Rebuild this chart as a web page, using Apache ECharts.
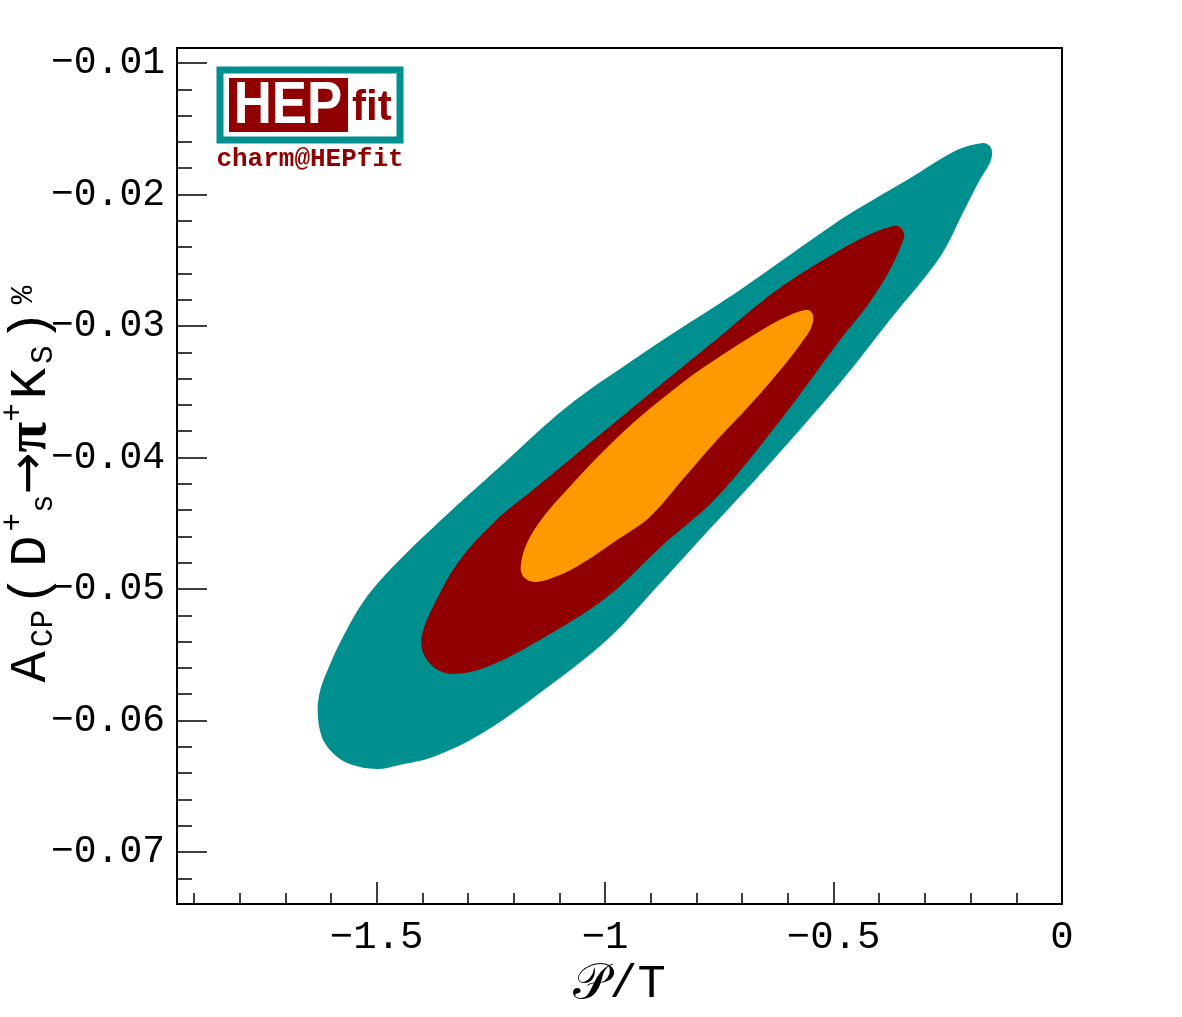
<!DOCTYPE html>
<html><head><meta charset="utf-8">
<script src="https://cdn.jsdelivr.net/npm/echarts@6/dist/echarts.min.js"></script>
<style>html,body{margin:0;padding:0;background:#fff}#c{width:1182px;height:1017px}</style>
</head><body><div id="c"></div>
<script>
// Axis ranges and tick values
const xMin = -1.937, xMax = 0;
const yMin = -0.07395, yMax = -0.00886;
const xTicks = [-1.5, -1, -0.5, 0];
const xMinor = [-1.9, -1.8, -1.7, -1.6, -1.4, -1.3, -1.2, -1.1, -0.9, -0.8, -0.7, -0.6, -0.4, -0.3, -0.2, -0.1];
const yTicks = [-0.07, -0.06, -0.05, -0.04, -0.03, -0.02, -0.01];
const yMinor = [-0.072, -0.068, -0.066, -0.064, -0.062, -0.058, -0.056, -0.054, -0.052,
  -0.048, -0.046, -0.044, -0.042, -0.038, -0.036, -0.034, -0.032,
  -0.028, -0.026, -0.024, -0.022, -0.018, -0.016, -0.014, -0.012];

// Contour outlines [P/T, A_CP %]
const contourOuter = [[-0.173,-0.01608],[-0.158,-0.01631],[-0.153,-0.01684],[-0.158,-0.01760],[-0.180,-0.01890],
  [-0.217,-0.02141],[-0.267,-0.02475],[-0.377,-0.02954],[-0.486,-0.03433],[-0.646,-0.04072],[-0.793,-0.04627],
  [-0.887,-0.04985],[-0.996,-0.05388],[-1.143,-0.05791],[-1.268,-0.06095],[-1.377,-0.06278],[-1.450,-0.06338],
  [-1.500,-0.06369],[-1.559,-0.06331],[-1.596,-0.06247],[-1.620,-0.06125],[-1.629,-0.05943],[-1.625,-0.05791],
  [-1.612,-0.05654],[-1.574,-0.05365],[-1.522,-0.05061],[-1.450,-0.04779],[-1.340,-0.04414],[-1.231,-0.04072],
  [-1.084,-0.03616],[-0.939,-0.03259],[-0.830,-0.03008],[-0.705,-0.02726],[-0.486,-0.02194],[-0.414,-0.02042],
  [-0.339,-0.01890],[-0.230,-0.01662]];
const contourMiddle = [[-0.359,-0.02240],[-0.348,-0.02278],[-0.346,-0.02331],[-0.377,-0.02574],[-0.425,-0.02840],
  [-0.486,-0.03106],[-0.611,-0.03692],[-0.755,-0.04300],[-0.874,-0.04665],[-0.996,-0.05061],[-1.143,-0.05388],
  [-1.259,-0.05593],[-1.333,-0.05646],[-1.373,-0.05601],[-1.399,-0.05479],[-1.401,-0.05350],[-1.377,-0.05137],
  [-1.318,-0.04779],[-1.231,-0.04452],[-1.158,-0.04247],[-1.007,-0.03814],[-0.874,-0.03433],[-0.758,-0.03106],
  [-0.624,-0.02726],[-0.486,-0.02422],[-0.414,-0.02293],[-0.377,-0.02247]];
const contourInner = [[-0.556,-0.02878],[-0.545,-0.02916],[-0.547,-0.02992],[-0.558,-0.03068],[-0.611,-0.03312],
  [-0.683,-0.03601],[-0.755,-0.03867],[-0.829,-0.04162],[-0.902,-0.04452],[-0.974,-0.04627],[-1.049,-0.04802],[-1.099,-0.04894],
  [-1.150,-0.04947],[-1.176,-0.04916],[-1.185,-0.04840],[-1.171,-0.04650],[-1.132,-0.04437],[-1.084,-0.04247],
  [-1.012,-0.03981],[-0.939,-0.03738],[-0.865,-0.03525],[-0.793,-0.03335],[-0.646,-0.03008],[-0.585,-0.02901]];

const TEAL = '#008F8F', RED = '#900000', ORANGE = '#FF9900';
const MONO = '"Liberation Mono", "DejaVu Sans Mono", monospace';

function fmt(v) { return v === 0 ? '0' : '\u2212' + String(Math.abs(v)); }

function polySeries(name, pts, color, z) {
  return {
    type: 'custom', name: name, coordinateSystem: 'cartesian2d', xAxisIndex: 0, yAxisIndex: 0,
    data: pts, z: z, silent: true, animation: false, clip: true,
    renderItem: function (params, api) {
      if (params.dataIndex !== 0) return;
      const points = pts.map(function (p) { return api.coord(p); });
      return { type: 'polygon', shape: { points: points, smooth: 0.35 }, style: { fill: color, stroke: null } };
    }
  };
}

const chart = echarts.init(document.getElementById('c'), null, { renderer: 'canvas' });
const tickStyle = { color: '#000', width: 1.5 };
const gridBox = { left: 177, right: 120, top: 48, bottom: 113, containLabel: false, outerBoundsMode: 'none' };
const mainRich = { fontFamily: MONO, fontSize: 52, color: '#000', lineHeight: 52, padding: [0, 4, 0, 4] };
chart.setOption({
  backgroundColor: '#fff',
  animation: false,
  grid: [
    Object.assign({ show: true, borderColor: '#000', borderWidth: 2, backgroundColor: 'transparent', z: 10 }, gridBox),
    Object.assign({ show: false }, gridBox)
  ],
  xAxis: [
    { type: 'value', gridIndex: 0, min: xMin, max: xMax, position: 'bottom', z: 11,
      axisLine: { show: true, onZero: false, lineStyle: { color: '#000', width: 2 } },
      axisTick: { show: true, inside: true, length: 22, customValues: xTicks, lineStyle: tickStyle },
      axisLabel: { customValues: xTicks, formatter: fmt, fontFamily: MONO, fontSize: 39, color: '#000', margin: 14 },
      splitLine: { show: false },
      name: '{p|\uD835\uDCAB}{t|/T}', nameLocation: 'middle', nameGap: 56, nameMoveOverlap: false,
      nameTextStyle: { rich: {
        p: { fontFamily: '"DejaVu Serif", "DejaVu Sans", serif', fontSize: 50, color: '#000' },
        t: { fontFamily: MONO, fontSize: 47, color: '#000' } } } },
    { type: 'value', gridIndex: 1, min: xMin, max: xMax, position: 'bottom', z: 11,
      axisLine: { show: false, onZero: false },
      axisTick: { show: true, inside: true, length: 11, customValues: xMinor, lineStyle: tickStyle },
      axisLabel: { show: false }, splitLine: { show: false } }
  ],
  yAxis: [
    { type: 'value', gridIndex: 0, min: yMin, max: yMax, position: 'left', z: 11,
      axisLine: { show: true, onZero: false, lineStyle: { color: '#000', width: 2 } },
      axisTick: { show: true, inside: true, length: 30, customValues: yTicks, lineStyle: tickStyle },
      axisLabel: { customValues: yTicks, formatter: fmt, fontFamily: MONO, fontSize: 38, color: '#000', margin: 12 },
      splitLine: { show: false },
      name: '{m|A}{sub|CP}{m|(}{m|D}{sup|+}{sub|s}{arr|\u2192}{pi|\u03C0}{sup|+}{m|K}{sub|S}{m|)}{pct|%}',
      nameLocation: 'middle', nameRotate: 90, nameGap: 120, nameMoveOverlap: false,
      nameTextStyle: { rich: {
        m: mainRich,
        sub: { fontFamily: MONO, fontSize: 31, color: '#000', lineHeight: 30, padding: [26, 0, 0, 0] },
        sup: { fontFamily: MONO, fontSize: 31, color: '#000', lineHeight: 30, padding: [0, 0, 34, 0] },
        pct: { fontFamily: MONO, fontSize: 31, color: '#000', lineHeight: 30, padding: [0, 20, 14, 2] },
        arr: { fontFamily: '"DejaVu Sans", sans-serif', fontSize: 50, color: '#000', lineHeight: 52 },
        pi: { fontFamily: '"Liberation Serif", "DejaVu Serif", serif', fontWeight: 'bold', fontSize: 56, color: '#000', lineHeight: 52 }
      } } },
    { type: 'value', gridIndex: 1, min: yMin, max: yMax, position: 'left', z: 11,
      axisLine: { show: false, onZero: false },
      axisTick: { show: true, inside: true, length: 15, customValues: yMinor, lineStyle: tickStyle },
      axisLabel: { show: false }, splitLine: { show: false } }
  ],
  series: [
    polySeries('outer', contourOuter, TEAL, 1),
    polySeries('middle', contourMiddle, RED, 2),
    polySeries('inner', contourInner, ORANGE, 3)
  ],
  graphic: [
    { type: 'rect', shape: { x: 220, y: 70, width: 180, height: 70 }, style: { fill: '#fff', stroke: TEAL, lineWidth: 7 }, z: 20 },
    { type: 'rect', shape: { x: 229, y: 78, width: 119, height: 54 }, style: { fill: RED }, z: 21 },
    { type: 'text', x: 288, y: 106, scaleX: 0.88, originX: 0, originY: 0, z: 22,
      style: { text: 'HEP', fill: '#fff', font: 'bold 60px "Liberation Sans", Arial, sans-serif', textAlign: 'center', textVerticalAlign: 'middle' } },
    { type: 'text', x: 352, y: 129, z: 22,
      style: { text: 'fit', fill: RED, font: 'bold 42px "Liberation Sans", Arial, sans-serif', textAlign: 'left', textVerticalAlign: 'bottom' } },
    { type: 'text', x: 310, y: 159, z: 22,
      style: { text: 'charm@HEPfit', fill: RED, font: 'bold 26px "Liberation Mono", monospace', textAlign: 'center', textVerticalAlign: 'middle' } }
  ]
});
</script>
</body></html>
